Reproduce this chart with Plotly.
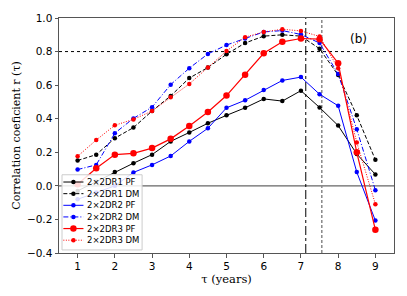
import plotly.graph_objects as go

tau = [1, 1.5, 2, 2.5, 3, 3.5, 4, 4.5, 5, 5.5, 6, 6.5, 7, 7.5, 8, 8.5, 9]

dr1_pf = [-0.03, 0.025, 0.082, 0.135, 0.186, 0.265, 0.318, 0.373, 0.42, 0.465, 0.518, 0.505, 0.567, 0.467, 0.359, 0.19, 0.068]
dr1_dm = [0.151, 0.186, 0.284, 0.347, 0.446, 0.536, 0.642, 0.705, 0.784, 0.851, 0.892, 0.9, 0.892, 0.817, 0.66, 0.42, 0.155]
dr2_pf = [-0.08, -0.04, 0.0, 0.08, 0.125, 0.178, 0.265, 0.343, 0.465, 0.51, 0.571, 0.628, 0.648, 0.546, 0.477, 0.082, -0.207]
dr2_dm = [0.097, 0.125, 0.314, 0.402, 0.469, 0.603, 0.701, 0.786, 0.839, 0.878, 0.917, 0.925, 0.902, 0.851, 0.666, 0.337, -0.026]
dr3_pf = [0.01, 0.105, 0.186, 0.194, 0.225, 0.28, 0.357, 0.44, 0.538, 0.662, 0.79, 0.858, 0.878, 0.874, 0.731, 0.2, -0.262]
dr3_dm = [0.176, 0.273, 0.361, 0.396, 0.446, 0.528, 0.607, 0.705, 0.803, 0.886, 0.917, 0.933, 0.923, 0.89, 0.7, 0.259, -0.109]

names = ["2×2DR1 PF", "2×2DR1 DM", "2×2DR2 PF", "2×2DR2 DM", "2×2DR3 PF", "2×2DR3 DM"]
vline_dashdot = 7.13
vline_dashed = 7.56
hline_thresh = 0.8

series = [dr1_pf, dr1_dm, dr2_pf, dr2_dm, dr3_pf, dr3_dm]
colors = ["black", "black", "blue", "blue", "red", "red"]
dashes = ["solid", "4px,2px", "solid", "5px,2px,1px,2px", "solid", "1px,1.5px"]
msizes = [4.5, 4.5, 4.5, 4.5, 6.5, 4.5]
widths = [1, 1, 1, 1, 1.2, 1]

fig = go.Figure()
for ys, nm, c, d, ms, w in zip(series, names, colors, dashes, msizes, widths):
    fig.add_trace(go.Scatter(x=tau, y=ys, name=nm, mode="lines+markers",
                             line=dict(color=c, dash=d, width=w),
                             marker=dict(color=c, size=ms), showlegend=False))

fig.add_hline(y=0, line=dict(color="#666", width=1.2), layer="below")
fig.add_hline(y=hline_thresh, line=dict(color="black", width=1, dash="dot"), layer="below")
fig.add_vline(x=vline_dashdot, line=dict(color="black", width=1, dash="dashdot"), layer="below")
fig.add_vline(x=vline_dashed, line=dict(color="#888", width=1.5, dash="3px,2px"), layer="below")

# manual legend on an overlay axis in [0,1] paper-like coords
box_x0, box_x1, box_y0, box_y1 = 0.009, 0.248, 0.013, 0.333
fig.add_trace(go.Scatter(x=[box_x0, box_x1, box_x1, box_x0, box_x0],
                         y=[box_y0, box_y0, box_y1, box_y1, box_y0],
                         fill="toself", fillcolor="rgba(255,255,255,0.85)",
                         line=dict(color="#ccc", width=1), mode="lines",
                         xaxis="x2", yaxis="y2", showlegend=False, hoverinfo="skip"))
row_top, row_step = 0.302, 0.0495
sx0, sx1, sxm, tx = 0.013, 0.073, 0.043, 0.078
for i, (nm, c, d, ms, w) in enumerate(zip(names, colors, dashes, msizes, widths)):
    yy = row_top - i * row_step
    fig.add_trace(go.Scatter(x=[sx0, sx1], y=[yy, yy], mode="lines",
                             line=dict(color=c, dash=d, width=w),
                             xaxis="x2", yaxis="y2", showlegend=False, hoverinfo="skip"))
    fig.add_trace(go.Scatter(x=[sxm], y=[yy], mode="markers",
                             marker=dict(color=c, size=ms),
                             xaxis="x2", yaxis="y2", showlegend=False, hoverinfo="skip"))
    fig.add_annotation(x=tx, y=yy, xref="paper", yref="paper", text=nm,
                       showarrow=False, xanchor="left", yanchor="middle",
                       font=dict(family="DejaVu Sans", size=8.5, color="black"))

fig.add_annotation(x=0.925, y=0.95, xref="paper", yref="paper", text="(b)",
                   showarrow=False, font=dict(family="DejaVu Sans", size=12, color="black"))

axis_common = dict(showgrid=False, zeroline=False, showline=True, linecolor="#555",
                   linewidth=1, mirror=True, ticks="outside", ticklen=3.5,
                   tickcolor="#555", tickfont=dict(family="DejaVu Sans", size=10.5, color="black"))

fig.update_xaxes(range=[0.5, 9.5], tickvals=[1, 2, 3, 4, 5, 6, 7, 8, 9],
                 title=dict(text="τ (years)", font=dict(family="DejaVu Serif", size=11.5, color="black"), standoff=2),
                 **axis_common)
fig.update_yaxes(range=[-0.4, 1.0], tickvals=[-0.4, -0.2, 0, 0.2, 0.4, 0.6, 0.8, 1.0],
                 ticktext=["−0.4", "−0.2", "0.0", "0.2", "0.4", "0.6", "0.8", "1.0"],
                 title=dict(text="Correlation coeficient r (τ)", font=dict(family="DejaVu Serif", size=11, color="black"), standoff=4),
                 **axis_common)

fig.update_layout(
    width=407, height=296,
    margin=dict(l=59, r=12, t=16, b=43),
    plot_bgcolor="white", paper_bgcolor="white",
    xaxis2=dict(overlaying="x", range=[0, 1], visible=False, fixedrange=True),
    yaxis2=dict(overlaying="y", range=[0, 1], visible=False, fixedrange=True),
    showlegend=False,
)

fig.write_html("out.html", config={"displayModeBar": False},
               post_script="document.body.style.margin='0';document.body.style.overflow='hidden';")
